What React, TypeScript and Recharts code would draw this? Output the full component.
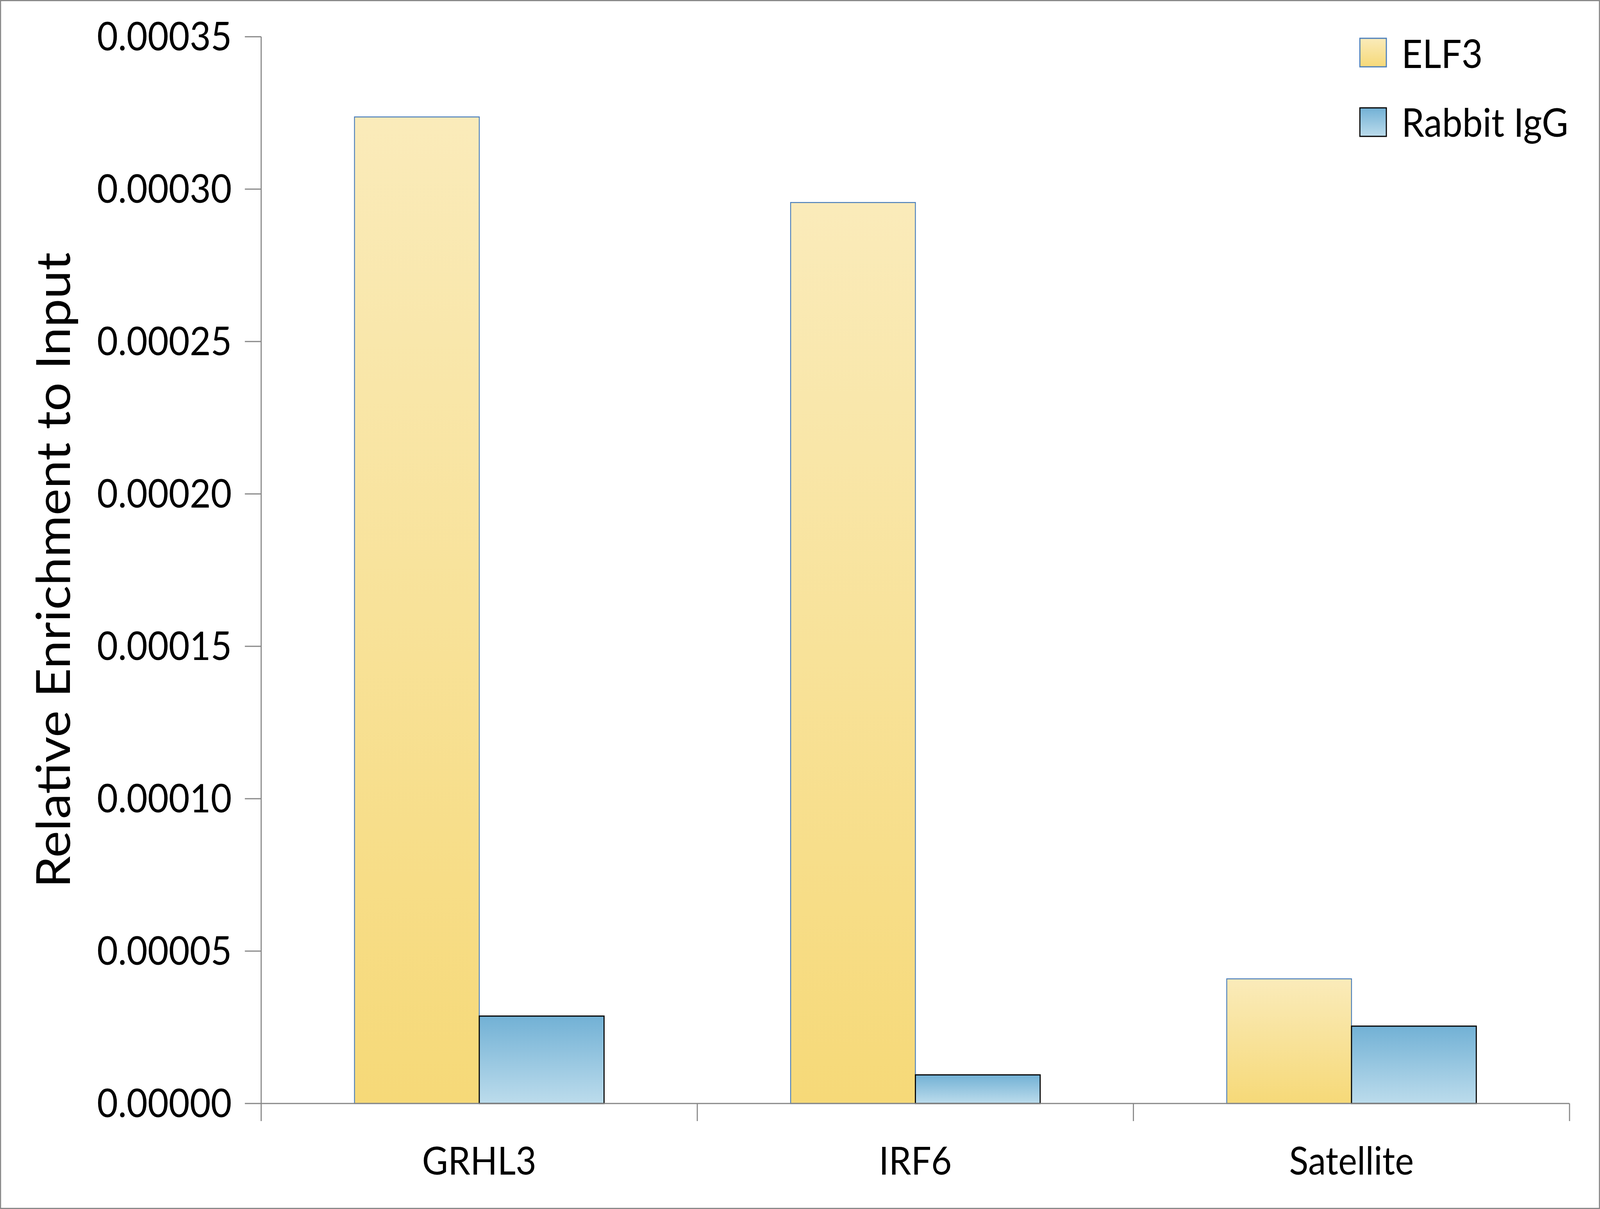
import { BarChart, Bar, XAxis, YAxis, Legend } from "recharts";

const categories = ["GRHL3", "IRF6", "Satellite"];
const elf3Values = [0.0003237, 0.0002956, 0.0000409];
const igGValues = [0.0000287, 0.0000094, 0.0000254];
const yTicks = [0, 0.00005, 0.0001, 0.00015, 0.0002, 0.00025, 0.0003, 0.00035];

const seriesNames = { elf3: "ELF3", igg: "Rabbit IgG" };

const data = categories.map((name, i) => ({
  name,
  elf3: elf3Values[i],
  igg: igGValues[i],
}));

const FONT = "Lato, 'Open Sans', sans-serif";
const AXIS_GREY = "#868686";
const X_TICK_MARGIN = 109;

// the browser viewport tops out at 4096 px wide, so the 4411 px layout is squeezed to fit
const DESIGN_W = 4411;
const DESIGN_H = 3094;
const VIEW_W = 4096;

// Y axis title, rotated, placed from the axis viewBox
const YTitle = (props: any) => {
  const vb = props.viewBox || {};
  const cy = (vb.y || 0) + (vb.height || 0) / 2;
  return (
    <text
      x={0}
      y={0}
      transform={`translate(${190}, ${cy}) rotate(-90)`}
      textAnchor="middle"
      fontFamily={FONT}
      fontSize={130}
      fill="#000"
    >
      Relative Enrichment to Input
    </text>
  );
};

// category label plus tick marks on the band edges
const CategoryTick = (props: any) => {
  const { x, y, payload, index, visibleTicksCount } = props;
  const half = payload.offset || 0;
  const axisY = y - X_TICK_MARGIN;
  const last = index === visibleTicksCount - 1;
  return (
    <g>
      <line x1={x - half} x2={x - half} y1={axisY} y2={axisY + 45} stroke={AXIS_GREY} strokeWidth={3} />
      {last && (
        <line x1={x + half} x2={x + half} y1={axisY} y2={axisY + 45} stroke={AXIS_GREY} strokeWidth={3} />
      )}
      <text x={x} y={y + 73} textAnchor="middle" fontFamily={FONT} fontSize={98} fill="#000">
        {payload.value}
      </text>
    </g>
  );
};

// legend rows sit 40px down inside the svg so the text boxes are not clipped
const LegendBox = () => (
  <svg width={660} height={360} style={{ overflow: "visible" }}>
    <defs>
      <linearGradient id="lgElf3" x1="0" y1="0" x2="0" y2="1">
        <stop offset="0%" stopColor="#FAEBBA" />
        <stop offset="100%" stopColor="#F6D978" />
      </linearGradient>
      <linearGradient id="lgIgg" x1="0" y1="0" x2="0" y2="1">
        <stop offset="0%" stopColor="#72B1D5" />
        <stop offset="100%" stopColor="#BCDCEC" />
      </linearGradient>
    </defs>
    <rect x={2} y={42} width={73} height={73} fill="url(#lgElf3)" stroke="#4A7EBB" strokeWidth={3} />
    <text x={117} y={118} fontFamily={FONT} fontSize={100} fill="#000">
      {seriesNames.elf3}
    </text>
    <rect x={2} y={220} width={73} height={73} fill="url(#lgIgg)" stroke="#000" strokeWidth={3} />
    <text x={117} y={294} fontFamily={FONT} fontSize={100} fill="#000">
      {seriesNames.igg}
    </text>
  </svg>
);

export default function App() {
  return (
    <div style={{ width: VIEW_W, height: DESIGN_H, overflow: "hidden", background: "#fff" }}>
      <style>{`body{margin:0}`}</style>
      <div
        style={{
          position: "relative",
          width: DESIGN_W,
          height: DESIGN_H,
          boxSizing: "border-box",
          border: "3px solid #8a8a8a",
          background: "#fff",
          transform: `scaleX(${VIEW_W / DESIGN_W})`,
          transformOrigin: "0 0",
        }}
      >
        <BarChart
          width={DESIGN_W - 6}
          height={DESIGN_H - 6}
          data={data}
          margin={{ top: 91, right: 81, left: 0, bottom: 67 }}
          barCategoryGap="21.4%"
          barGap={0}
        >
          <defs>
            <linearGradient id="gElf3" x1="0" y1="0" x2="0" y2="1">
              <stop offset="0%" stopColor="#FAEBBA" />
              <stop offset="100%" stopColor="#F6D978" />
            </linearGradient>
            <linearGradient id="gIgg" x1="0" y1="0" x2="0" y2="1">
              <stop offset="0%" stopColor="#72B1D5" />
              <stop offset="100%" stopColor="#BCDCEC" />
            </linearGradient>
          </defs>
          <XAxis
            dataKey="name"
            height={200}
            axisLine={{ stroke: AXIS_GREY, strokeWidth: 3 }}
            tickLine={false}
            tickSize={0}
            tickMargin={X_TICK_MARGIN}
            interval={0}
            tick={<CategoryTick />}
          />
          <YAxis
            width={717}
            domain={[0, 0.00035]}
            ticks={yTicks}
            interval={0}
            tickFormatter={(v: number) => v.toFixed(5)}
            axisLine={{ stroke: AXIS_GREY, strokeWidth: 3 }}
            tickLine={{ stroke: AXIS_GREY, strokeWidth: 3 }}
            tickSize={45}
            tickMargin={36}
            tick={{ fontFamily: FONT, fontSize: 100, fill: "#000" }}
            label={<YTitle />}
          />
          <Legend
            layout="horizontal"
            align="center"
            verticalAlign="middle"
            content={<LegendBox />}
            wrapperStyle={{ position: "absolute", left: 3744, top: 53, width: 660, height: 360 }}
          />
          <Bar
            dataKey="elf3"
            name={seriesNames.elf3}
            fill="url(#gElf3)"
            stroke="#4A7EBB"
            strokeWidth={2.5}
            isAnimationActive={false}
          />
          <Bar
            dataKey="igg"
            name={seriesNames.igg}
            fill="url(#gIgg)"
            stroke="#000"
            strokeWidth={3}
            isAnimationActive={false}
          />
        </BarChart>
      </div>
    </div>
  );
}
